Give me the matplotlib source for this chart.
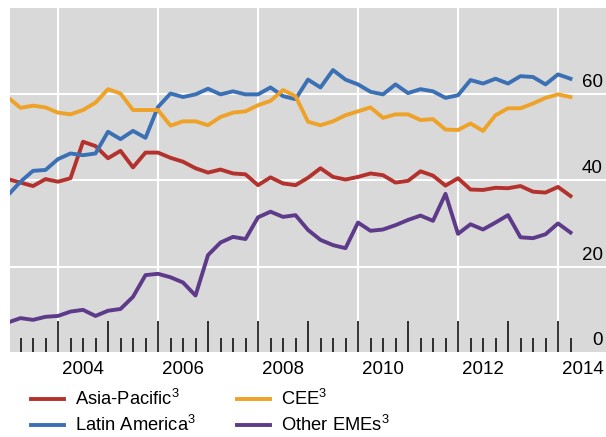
import numpy as np
import matplotlib
matplotlib.use("Agg")
import matplotlib.pyplot as plt
import matplotlib.transforms as mtransforms
from matplotlib.ticker import FixedLocator

plt.rcParams['font.family'] = ['Liberation Sans', 'DejaVu Sans']
plt.rcParams['mathtext.fontset'] = 'custom'
plt.rcParams['mathtext.rm'] = 'Liberation Sans'
plt.rcParams['mathtext.default'] = 'regular'

# quarterly dates, 2003 Q1 .. 2014 Q2
dates = 2003.0 + 0.25 * np.arange(46)

asia_pacific = [40.3, 39.5, 38.7, 40.3, 39.7, 40.5, 48.9, 47.9, 45.1, 46.8,
                43.0, 46.4, 46.4, 45.2, 44.3, 42.8, 41.8, 42.5, 41.6, 41.4,
                38.9, 40.7, 39.3, 38.9, 40.6, 42.8, 40.8, 40.2, 40.8, 41.6,
                41.2, 39.5, 39.9, 42.1, 41.1, 38.8, 40.5, 37.9, 37.8, 38.3,
                38.2, 38.7, 37.4, 37.2, 38.5, 36.4]
latin_america = [36.6, 39.7, 42.2, 42.4, 44.9, 46.2, 45.8, 46.2, 51.2, 49.5,
                 51.4, 49.8, 56.9, 60.0, 59.2, 59.8, 61.1, 59.8, 60.5, 59.8,
                 59.8, 61.4, 59.4, 58.7, 63.2, 61.4, 65.4, 63.2, 62.1, 60.4,
                 59.8, 62.1, 60.1, 61.0, 60.5, 59.0, 59.6, 63.1, 62.3, 63.4,
                 62.3, 64.0, 63.8, 62.1, 64.4, 63.4]
cee = [59.1, 56.7, 57.2, 56.8, 55.6, 55.2, 56.2, 57.9, 61.0, 60.0,
       56.2, 56.2, 56.2, 52.6, 53.6, 53.6, 52.7, 54.6, 55.6, 55.9,
       57.3, 58.3, 60.8, 59.4, 53.5, 52.7, 53.6, 55.0, 55.9, 56.8,
       54.4, 55.2, 55.2, 53.9, 54.1, 51.7, 51.6, 53.1, 51.4, 55.0,
       56.6, 56.6, 57.7, 59.0, 59.8, 59.2]
other_emes = [7.3, 8.3, 7.9, 8.6, 8.8, 9.8, 10.2, 8.8, 10.0, 10.4,
              13.2, 18.2, 18.5, 17.7, 16.5, 13.5, 22.8, 25.7, 27.0, 26.5,
              31.5, 32.8, 31.6, 32.0, 28.6, 26.3, 25.1, 24.4, 30.3, 28.4,
              28.7, 29.7, 30.9, 31.9, 30.7, 36.9, 27.7, 29.9, 28.7, 30.3,
              32.0, 26.9, 26.7, 27.6, 30.1, 28.0]

series = [
    ("Asia-Pacific$^{3}$", asia_pacific, "#B3322D"),
    ("Latin America$^{3}$", latin_america, "#3B70B5"),
    ("CEE$^{3}$", cee, "#EEA228"),
    ("Other EMEs$^{3}$", other_emes, "#5E3A8A"),
]

year_labels = [2004, 2006, 2008, 2010, 2012, 2014]
y_labels = [0, 20, 40, 60]

W, H = 606, 437
FS = 13.5
LFS = 13.2
fig = plt.figure(figsize=(W / 100, H / 100), dpi=100)
left, right, top, bottom = 9.5, 606, 7.5, 352
ax = fig.add_axes([left / W, 1 - bottom / H, (right - left) / W, (bottom - top) / H])
ax.set_facecolor("#D9D9D9")
for s in ax.spines.values():
    s.set_visible(False)

ax.set_xlim(2003.03, 2014.96)
ax.set_ylim(0.5, 79.8)

# gridlines
for yv in [20, 40, 60]:
    ax.axhline(yv, color="white", lw=1.5, zorder=1)
for xv in year_labels:
    ax.axvline(xv, color="white", lw=1.5, zorder=1)

lines = []
for label, vals, col in series:
    ln, = ax.plot(dates, vals, color=col, lw=2.8, label=label, zorder=3)
    lines.append(ln)

# ticks: yearly majors, quarterly minors, within the data span
ax.xaxis.set_major_locator(FixedLocator(np.arange(2004, 2015)))
ax.xaxis.set_minor_locator(FixedLocator(dates[1:]))
ax.tick_params(axis="x", which="major", direction="in", length=22, width=1.1,
               color="black", labelbottom=False)
ax.tick_params(axis="x", which="minor", direction="in", length=10, width=1.1,
               color="black")
ax.set_yticks([])

# x labels centred on year
trans_x = mtransforms.blended_transform_factory(ax.transData, ax.transAxes)
for yr in year_labels:
    ax.text(yr + 0.5, 0, str(yr),
            transform=trans_x + mtransforms.ScaledTranslation(0, -18 / 100, fig.dpi_scale_trans),
            ha="center", va="center", fontsize=FS, color="black")

# y labels on the right, inside, above gridlines
trans_y = mtransforms.blended_transform_factory(ax.transAxes, ax.transData)
for yv in y_labels:
    ax.text(1, max(yv, 0.5), str(yv),
            transform=trans_y + mtransforms.ScaledTranslation(-3 / 100, 11.5 / 100, fig.dpi_scale_trans),
            ha="right", va="center", fontsize=FS, color="black", zorder=5)

fig.legend(lines, [l.get_label() for l in lines], loc="upper left",
           bbox_to_anchor=(31 / W, 1 - 389 / H), ncol=2, frameon=False,
           fontsize=LFS, handlelength=1.8, handletextpad=0.6,
           columnspacing=2.25, labelspacing=0.33, borderaxespad=0, borderpad=0)

fig.savefig("out.png", dpi=100)
